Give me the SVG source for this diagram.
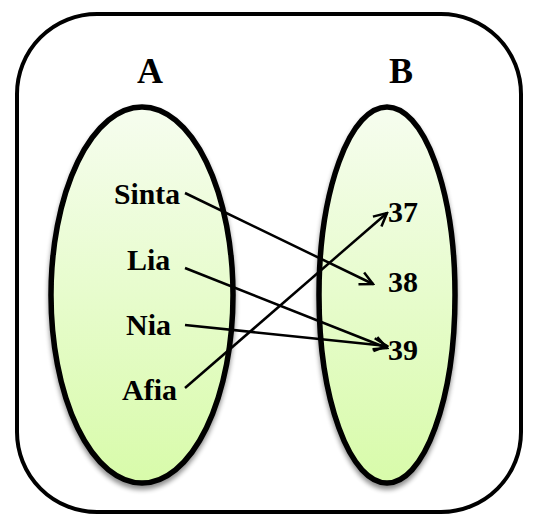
<svg xmlns="http://www.w3.org/2000/svg" width="546" height="515" viewBox="0 0 546 515">
<defs>
<linearGradient id="g" x1="0" y1="0" x2="0" y2="1">
<stop offset="0" stop-color="#f6fdef"/>
<stop offset="1" stop-color="#d8fbaa"/>
</linearGradient>
<filter id="sh" x="-20%" y="-20%" width="140%" height="140%">
<feGaussianBlur in="SourceAlpha" stdDeviation="2.5"/>
<feOffset dx="0" dy="4" result="b"/>
<feComponentTransfer><feFuncA type="linear" slope="0.45"/></feComponentTransfer>
<feMerge><feMergeNode/><feMergeNode in="SourceGraphic"/></feMerge>
</filter>
<marker id="ah" markerWidth="16" markerHeight="16" refX="14" refY="8" orient="auto" markerUnits="userSpaceOnUse">
<polyline points="1,1.5 14,8 1,14.5" fill="none" stroke="#000" stroke-width="2.5"/>
</marker>
<style>
.lbl{font-family:"Liberation Serif","Times New Roman",serif;font-weight:bold;fill:#000}
.t{font-size:30px}
.h{font-size:36px}
.set{fill:url(#g);stroke:#000;stroke-width:5.5;filter:url(#sh)}
.c{stroke:#000;stroke-width:2.5;fill:none;marker-end:url(#ah)}
</style>
</defs>
<rect x="17" y="14" width="504" height="498" rx="80" ry="80" fill="#fff" stroke="#000" stroke-width="4"/>
<g id="setA">
<ellipse class="set" cx="142" cy="295" rx="91" ry="188"/>
<text class="lbl h" x="150" y="83" text-anchor="middle">A</text>
</g>
<g id="setB">
<ellipse class="set" cx="387" cy="295" rx="68" ry="188"/>
<text class="lbl h" x="401" y="83" text-anchor="middle">B</text>
</g>
<g id="Sinta"><text class="lbl t" x="114" y="204" textLength="66" lengthAdjust="spacingAndGlyphs">Sinta</text></g>
<g id="Lia"><text class="lbl t" x="127" y="270">Lia</text></g>
<g id="Nia"><text class="lbl t" x="126" y="335">Nia</text></g>
<g id="Afia"><text class="lbl t" x="122" y="400">Afia</text></g>
<g id="n37"><text class="lbl t" x="388" y="222">37</text></g>
<g id="n38"><text class="lbl t" x="388" y="292">38</text></g>
<g id="n39"><text class="lbl t" x="388" y="360">39</text></g>
<g id="connectors">
<line class="c" x1="185" y1="193" x2="373" y2="284"/>
<line class="c" x1="185" y1="268" x2="387" y2="348"/>
<line class="c" x1="185" y1="325" x2="387" y2="346"/>
<line class="c" x1="185" y1="388" x2="387" y2="213"/>
</g>
</svg>
